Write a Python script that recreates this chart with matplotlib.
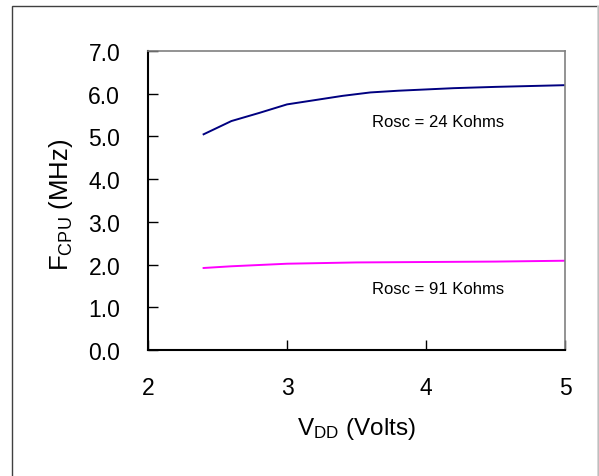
import matplotlib
matplotlib.use("Agg")
import matplotlib.pyplot as plt
from matplotlib.patches import Rectangle

plt.rcParams['font.family'] = ['Liberation Sans', 'DejaVu Sans']
plt.rcParams['mathtext.fontset'] = 'custom'
plt.rcParams['mathtext.rm'] = 'Liberation Sans'
plt.rcParams['mathtext.it'] = 'Liberation Sans'

# supply voltage (V) and CPU clock (MHz)
vdd_24k = [2.4, 2.6, 2.8, 3.0, 3.2, 3.4, 3.6, 3.8, 4.0, 4.2, 4.5, 5.0]
fcpu_24k = [5.05, 5.36, 5.55, 5.75, 5.85, 5.95, 6.03, 6.07, 6.10, 6.13, 6.16, 6.20]

vdd_91k = [2.4, 2.6, 2.8, 3.0, 3.5, 4.0, 4.5, 5.0]
fcpu_91k = [1.92, 1.96, 1.99, 2.02, 2.05, 2.06, 2.07, 2.09]

x_ticks = [2, 3, 4, 5]
y_ticks = [0, 1, 2, 3, 4, 5, 6, 7]
labels = ["Rosc = 24 Kohms", "Rosc = 91 Kohms"]

fig = plt.figure(figsize=(5.99, 4.77), dpi=100)
ax = fig.add_axes([148 / 599, 1 - 351 / 477, (565 - 148) / 599, (351 - 52) / 477])

ax.plot(vdd_24k, fcpu_24k, color='#000080', lw=1.4)
ax.plot(vdd_91k, fcpu_91k, color='#ff00ff', lw=1.4)

ax.text(4.09, 5.36, labels[0], ha='center', va='center', fontsize=12)
ax.text(4.09, 1.43, labels[1], ha='center', va='center', fontsize=12)

ax.set_xlim(2, 5)
ax.set_ylim(0, 7)
ax.set_xticks(x_ticks)
ax.set_xticklabels([str(v) for v in x_ticks])
ax.set_yticks(y_ticks)
ax.set_yticklabels([f"{v:.1f}" for v in y_ticks])
ax.tick_params(axis='both', direction='in', length=7, width=1, labelsize=16.5)
ax.tick_params(axis='x', pad=19)
ax.tick_params(axis='y', pad=20)

for side in ['left', 'bottom']:
    ax.spines[side].set_color('black')
    ax.spines[side].set_linewidth(1.5)
for side in ['top', 'right']:
    ax.spines[side].set_color('#808080')
    ax.spines[side].set_linewidth(1.2)

ax.set_xlabel(r'V$_{\mathrm{DD}}$ (Volts)', fontsize=17.5, labelpad=11)
ax.set_ylabel(r'F$_{\mathrm{CPU}}$ (MHz)', fontsize=18.5)
ax.yaxis.set_label_coords(-0.175, 0.488)

# outer frame around the chart
fig.patches.append(Rectangle((12 / 599, -0.01), (598 - 12) / 599, 1 - 7 / 477 + 0.01,
                             transform=fig.transFigure, fill=False,
                             edgecolor='#404040', lw=1.0))
fig.lines.append(plt.Line2D([598 / 599, 598 / 599], [0, 1 - 7 / 477],
                            transform=fig.transFigure, color='#d8d8d8', lw=1.2))

fig.savefig('out.png', dpi=100)
